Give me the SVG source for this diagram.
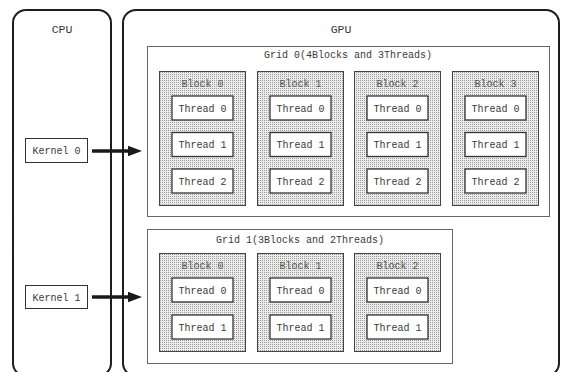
<svg xmlns="http://www.w3.org/2000/svg" width="561" height="372" viewBox="0 0 561 372">
  <defs>
    <pattern id="dots" width="2" height="2" patternUnits="userSpaceOnUse">
      <rect width="2" height="2" fill="#ececec"/>
      <rect width="1" height="1" fill="#9a9a9a"/>
    </pattern>
    <marker id="head" markerWidth="4" markerHeight="3" refX="0" refY="1.5" orient="auto" markerUnits="strokeWidth">
      <polygon points="0,0 4,1.5 0,3" fill="#1a1a1a"/>
    </marker>
  </defs>
  <style>
    text { font-family: "Liberation Mono", "DejaVu Sans Mono", monospace; fill: #3a3a3a; text-anchor: middle; }
    .host { fill: #fff; stroke: #1e1e1e; stroke-width: 2; }
    .grid { fill: #fff; stroke: #666; stroke-width: 1; }
    .block { fill: url(#dots); stroke: #444; stroke-width: 1; }
    .thread { fill: #fff; stroke: #333; stroke-width: 1.3; }
    .kernel { fill: #fff; stroke: #333; stroke-width: 1; }
    .lbl { font-size: 10px; }
    .title { font-size: 11.5px; }
    .btitle { font-size: 10px; fill: #555; }
    .arrow { stroke: #1a1a1a; stroke-width: 3.5; fill: none; }
  </style>

  <rect width="561" height="372" fill="#fff"/>

  <g id="cpu">
    <rect class="host" x="13" y="10" width="98" height="366" rx="13"/>
    <text class="title" x="62" y="33">CPU</text>
  </g>
  <g id="gpu">
    <rect class="host" x="123" y="10" width="436" height="366" rx="13"/>
    <text class="title" x="341" y="33">GPU</text>
  </g>

  <g id="kernel0">
    <rect class="kernel" x="25.5" y="138.5" width="62" height="24"/>
    <text class="lbl" x="56.5" y="154">Kernel 0</text>
  </g>
  <g id="kernel1">
    <rect class="kernel" x="25.5" y="285.5" width="62" height="23"/>
    <text class="lbl" x="56.5" y="300.5">Kernel 1</text>
  </g>

  <g id="grid0">
    <rect class="grid" x="147.5" y="46.5" width="402" height="170"/>
    <text class="lbl" x="348" y="58">Grid 0(4Blocks and 3Threads)</text>
  </g>
  <g id="grid1">
    <rect class="grid" x="147.5" y="229.5" width="305" height="134"/>
    <text class="lbl" x="300" y="243">Grid 1(3Blocks and 2Threads)</text>
  </g>

  <!-- grid 0 blocks: 3 threads each -->
  <g id="g0b0">
    <rect class="block" x="159.5" y="71.5" width="86" height="134"/>
    <text class="btitle" x="202.5" y="87">Block 0</text>
    <rect class="thread" x="172" y="96" width="61" height="24"/><text class="lbl" x="202.5" y="111.5">Thread 0</text>
    <rect class="thread" x="172" y="132.5" width="61" height="24"/><text class="lbl" x="202.5" y="148">Thread 1</text>
    <rect class="thread" x="172" y="169" width="61" height="24"/><text class="lbl" x="202.5" y="184.5">Thread 2</text>
  </g>
  <g id="g0b1">
    <rect class="block" x="257.5" y="71.5" width="86" height="134"/>
    <text class="btitle" x="300.5" y="87">Block 1</text>
    <rect class="thread" x="270" y="96" width="61" height="24"/><text class="lbl" x="300.5" y="111.5">Thread 0</text>
    <rect class="thread" x="270" y="132.5" width="61" height="24"/><text class="lbl" x="300.5" y="148">Thread 1</text>
    <rect class="thread" x="270" y="169" width="61" height="24"/><text class="lbl" x="300.5" y="184.5">Thread 2</text>
  </g>
  <g id="g0b2">
    <rect class="block" x="354.5" y="71.5" width="86" height="134"/>
    <text class="btitle" x="397.5" y="87">Block 2</text>
    <rect class="thread" x="367" y="96" width="61" height="24"/><text class="lbl" x="397.5" y="111.5">Thread 0</text>
    <rect class="thread" x="367" y="132.5" width="61" height="24"/><text class="lbl" x="397.5" y="148">Thread 1</text>
    <rect class="thread" x="367" y="169" width="61" height="24"/><text class="lbl" x="397.5" y="184.5">Thread 2</text>
  </g>
  <g id="g0b3">
    <rect class="block" x="452.5" y="71.5" width="86" height="134"/>
    <text class="btitle" x="495.5" y="87">Block 3</text>
    <rect class="thread" x="465" y="96" width="61" height="24"/><text class="lbl" x="495.5" y="111.5">Thread 0</text>
    <rect class="thread" x="465" y="132.5" width="61" height="24"/><text class="lbl" x="495.5" y="148">Thread 1</text>
    <rect class="thread" x="465" y="169" width="61" height="24"/><text class="lbl" x="495.5" y="184.5">Thread 2</text>
  </g>

  <!-- grid 1 blocks: 2 threads each -->
  <g id="g1b0">
    <rect class="block" x="159.5" y="253.5" width="86" height="98"/>
    <text class="btitle" x="202.5" y="269">Block 0</text>
    <rect class="thread" x="172" y="278" width="61" height="24"/><text class="lbl" x="202.5" y="293.5">Thread 0</text>
    <rect class="thread" x="172" y="315" width="61" height="24"/><text class="lbl" x="202.5" y="330.5">Thread 1</text>
  </g>
  <g id="g1b1">
    <rect class="block" x="257.5" y="253.5" width="86" height="98"/>
    <text class="btitle" x="300.5" y="269">Block 1</text>
    <rect class="thread" x="270" y="278" width="61" height="24"/><text class="lbl" x="300.5" y="293.5">Thread 0</text>
    <rect class="thread" x="270" y="315" width="61" height="24"/><text class="lbl" x="300.5" y="330.5">Thread 1</text>
  </g>
  <g id="g1b2">
    <rect class="block" x="354.5" y="253.5" width="86" height="98"/>
    <text class="btitle" x="397.5" y="269">Block 2</text>
    <rect class="thread" x="367" y="278" width="61" height="24"/><text class="lbl" x="397.5" y="293.5">Thread 0</text>
    <rect class="thread" x="367" y="315" width="61" height="24"/><text class="lbl" x="397.5" y="330.5">Thread 1</text>
  </g>

  <g id="connectors">
    <line class="arrow" x1="92" y1="151" x2="128" y2="151" marker-end="url(#head)"/>
    <line class="arrow" x1="92" y1="297" x2="128" y2="297" marker-end="url(#head)"/>
  </g>
</svg>
